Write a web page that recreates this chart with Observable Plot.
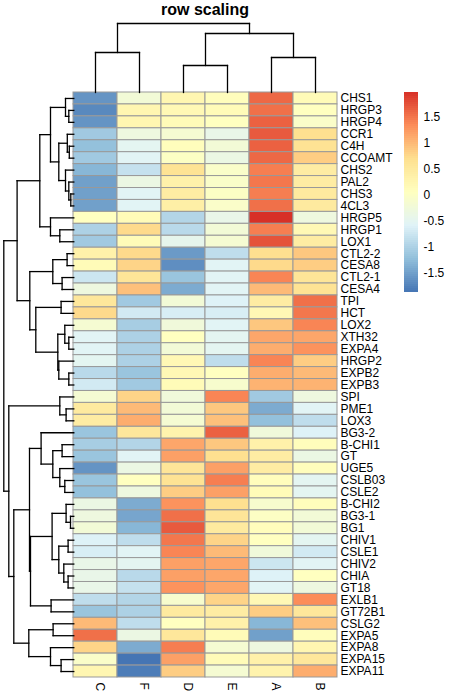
<!DOCTYPE html>
<html><head><meta charset="utf-8">
<script src="https://cdn.jsdelivr.net/npm/d3@7"></script>
<script src="https://cdn.jsdelivr.net/npm/@observablehq/plot@0.6"></script>
<style>
body{margin:0;background:#fff;}
#chart{position:relative;width:450px;height:700px;font-family:"Liberation Sans",Arial,sans-serif;}
#chart svg{position:absolute;left:0;top:0;}
#title{position:absolute;left:73px;width:264px;top:0;text-align:center;font-weight:bold;font-size:16px;line-height:20px;}
</style></head><body>
<div id="chart"><div id="title">row scaling</div></div>
<script>
// ---- data ----
const columns = ["C","F","D","E","A","B"];
const genes = ["CHS1","HRGP3","HRGP4","CCR1","C4H","CCOAMT","CHS2","PAL2","CHS3","4CL3","HRGP5","HRGP1","LOX1",
  "CTL2-2","CESA8","CTL2-1","CESA4","TPI","HCT","LOX2","XTH32","EXPA4","HRGP2","EXPB2","EXPB3",
  "SPI","PME1","LOX3","BG3-2","B-CHI1","GT","UGE5","CSLB03","CSLE2","B-CHI2","BG3-1","BG1","CHIV1","CSLE1",
  "CHIV2","CHIA","GT18","EXLB1","GT72B1","CSLG2","EXPA5","EXPA8","EXPA15","EXPA11"];
const valC = [-1.6,-1.7,-1.6,-1.1,-1.2,-1.1,-1.3,-1.5,-1.5,-1.5,0.05,-1.0,-1.1,
  0.35,0.15,-0.75,-0.3,0.55,0.75,-0.15,-0.55,-0.55,-0.5,-0.9,-0.7,
  -0.15,0.5,0.45,-1.15,-1.05,-1.15,-1.6,-1.15,-1.2,-0.35,-0.3,-0.2,-0.6,-0.65,
  -0.4,-0.4,-0.4,-0.85,-1.15,1.0,1.55,0.8,-0.05,0.25];
const valF = [-0.2,0.25,0.25,-0.3,-0.5,-0.55,-0.8,-0.35,-0.55,-0.55,0.15,0.75,0.15,
  0.75,0.8,0.6,0.95,-1.1,-0.7,-1.05,-1.0,-1.0,-1.0,-1.15,-1.1,
  0.8,1.0,1.1,0.55,-0.95,-0.55,-0.35,0.05,-0.3,-1.4,-1.45,-1.3,-0.85,-0.55,
  -0.5,-0.9,-0.8,-0.95,-1.0,-0.85,-0.35,-1.4,-1.87,-1.8];
const valD = [0.25,0.2,0.15,-0.15,0.1,0.0,0.65,0.35,0.45,0.4,-0.95,-0.9,-0.45,
  -1.55,-1.65,-1.15,-1.4,-0.2,-0.65,-0.25,0.05,-0.2,0.2,0.2,0.15,
  -0.25,-0.2,-0.15,0.3,1.15,1.2,0.6,0.65,0.85,1.3,1.55,1.7,1.5,1.4,
  1.2,1.2,1.3,-0.1,0.5,0.05,0.55,1.45,1.2,0.85];
const valE = [0.1,0.15,0.05,-0.4,-0.2,-0.35,-0.05,-0.05,0.0,-0.05,-0.4,-0.2,-0.15,
  -0.85,-0.55,-0.55,-0.55,-0.6,-0.65,-0.55,-0.5,-0.5,-0.85,0.05,-0.1,
  1.4,0.9,0.95,1.65,0.9,0.7,1.2,1.45,1.2,0.7,0.6,0.5,0.8,1.0,
  1.15,1.15,1.15,0.8,0.45,0.35,0.15,-0.15,0.15,-0.15];
const valA = [1.6,1.55,1.65,1.7,1.65,1.6,1.45,1.5,1.45,1.55,1.99,1.45,1.75,
  0.7,0.75,1.4,1.0,0.45,0.2,0.9,1.15,1.1,1.4,1.1,1.05,
  -1.1,-1.4,-1.2,-0.25,0.35,0.45,0.45,0.1,0.15,-0.1,0.0,0.1,0.05,-0.25,
  -0.75,-0.6,-0.55,0.2,0.85,-1.3,-1.5,-0.3,0.35,0.3];
const valB = [0.15,0.05,-0.05,0.7,0.65,0.85,0.45,0.45,0.5,0.5,-0.3,0.2,0.45,
  0.9,0.85,0.6,0.65,1.55,1.5,1.4,1.15,1.3,0.85,1.0,1.05,
  -0.3,-0.55,-0.85,-0.6,0.1,-0.35,0.1,-0.5,-0.5,0.1,-0.2,-0.2,-0.5,-0.7,
  -0.55,0.05,-0.3,1.35,0.55,0.95,0.1,0.25,0.55,1.1];
const legendTicks = [-1.5,-1,-0.5,0,0.5,1,1.5];
const palette = ["#4575B4","#91BFDB","#E0F3F8","#FFFFBF","#FEE090","#FC8D59","#D73027"];

// dendrograms: node(mergeHeight, left, right); leaves are row/column indices
function node(h, a, b){ return {h, a, b}; }
const colTree = node(69, node(40, 0, 1), node(59, node(27, 2, 3), node(35, 4, 5)));
const rowTree = node(70,
  node(56.7,
    node(34,
      node(23.3,
        node(8.3, 0, node(5, 1, 2)),
        node(15,
          node(6.5, 3, node(4.5, 4, 5)),
          node(8.3, 6, node(5, 7, node(3, 8, 9))))),
      node(23.3, 10, node(14, 11, 12))),
    node(44,
      node(21, node(6.7, 13, 14), node(11.7, 15, 16)),
      node(38,
        node(12.7, 17, 18),
        node(16,
          node(9, 19, node(5, 20, 21)),
          node(15, 22, node(5, 23, 24)))))),
  node(65,
    node(14, 25, node(7.7, 26, 27)),
    node(60,
      node(44.3,
        node(32.7, 28, node(21, node(11.7, 29, 30), node(14, 31, node(9, 32, 33)))),
        node(43.3,
          node(21.7,
            node(7.7, 34, node(3.3, 35, 36)),
            node(15, node(5.7, 37, 38), node(10, 39, node(5.7, 40, 41)))),
          node(22.7, 42, 43))),
      node(45,
        node(20.7, 44, 45),
        node(23.3, 46, node(12.7, 47, 48))))));

// ---- build ----
const colVals = {C: valC, F: valF, D: valD, E: valE, A: valA, B: valB};
const cells = genes.flatMap((g, i) => columns.map(c => ({gene: g, col: c, value: colVals[c][i]})));
const extent = d3.extent(cells, d => d.value);
const colorOpts = {type: "linear", domain: extent, interpolate: d3.piecewise(d3.interpolateRgb, palette)};

function treeSegments(tree){
  const segs = [];
  function pos(n){
    if (typeof n === "number") return {p: n + 0.5, h: 0};
    const A = pos(n.a), B = pos(n.b);
    segs.push({p1: A.p, h1: n.h, p2: B.p, h2: n.h});
    segs.push({p1: A.p, h1: A.h, p2: A.p, h2: n.h});
    segs.push({p1: B.p, h1: B.h, p2: B.p, h2: n.h});
    return {p: (A.p + B.p) / 2, h: n.h};
  }
  pos(tree);
  return segs;
}
const rowSegs = treeSegments(rowTree);
const colSegs = treeSegments(colTree);

const baseStyle = {fontFamily: '"Liberation Sans", Arial, sans-serif', fontSize: "12px", background: "transparent", overflow: "visible"};
const chart = document.getElementById("chart");

const main = Plot.plot({
  width: 450, height: 700, marginLeft: 73, marginRight: 113, marginTop: 92, marginBottom: 23,
  x: {domain: columns, padding: 0, axis: null},
  y: {domain: genes, padding: 0, axis: null},
  color: colorOpts,
  style: baseStyle,
  marks: [
    Plot.cell(cells, {x: "col", y: "gene", fill: "value", stroke: "#999999", strokeWidth: 1, inset: 0}),
    Plot.text(genes, {y: d => d, frameAnchor: "right", textAnchor: "start", dx: 3, fill: "black"}),
    Plot.text(columns, {x: d => d, frameAnchor: "bottom", rotate: 90, textAnchor: "start", dy: 5, fill: "black"})
  ]
});
chart.appendChild(main);

const rowDendro = Plot.plot({
  width: 450, height: 700,
  x: {domain: [0, 70], range: [73.3, 3.3], axis: null},
  y: {domain: [0, genes.length], range: [92, 677], axis: null},
  style: baseStyle,
  marks: [Plot.link(rowSegs, {x1: "h1", y1: "p1", x2: "h2", y2: "p2", stroke: "black", strokeWidth: 1.3, strokeLinecap: "square"})]
});
chart.appendChild(rowDendro);

const colDendro = Plot.plot({
  width: 450, height: 700,
  x: {domain: [0, columns.length], range: [73, 337], axis: null},
  y: {domain: [0, 69], range: [92, 23], axis: null},
  style: baseStyle,
  marks: [Plot.link(colSegs, {x1: "p1", y1: "h1", x2: "p2", y2: "h2", stroke: "black", strokeWidth: 1.3, strokeLinecap: "square"})]
});
chart.appendChild(colDendro);

const nSteps = 100;
const step = (extent[1] - extent[0]) / nSteps;
const steps = d3.range(nSteps).map(i => ({y1: extent[0] + i * step, y2: extent[0] + (i + 1) * step, v: extent[0] + (i + 0.5) * step}));
const legend = Plot.plot({
  width: 450, height: 700, marginLeft: 404, marginRight: 32,
  y: {domain: extent, range: [291.7, 91.7], axis: null},
  color: colorOpts,
  style: baseStyle,
  marks: [
    Plot.rect(steps, {y1: "y1", y2: "y2", fill: "v", shapeRendering: "crispEdges"}),
    Plot.text(legendTicks, {y: d => d, frameAnchor: "right", textAnchor: "start", dx: 5, text: d => String(d), fill: "black"})
  ]
});
chart.appendChild(legend);
</script>
</body></html>
